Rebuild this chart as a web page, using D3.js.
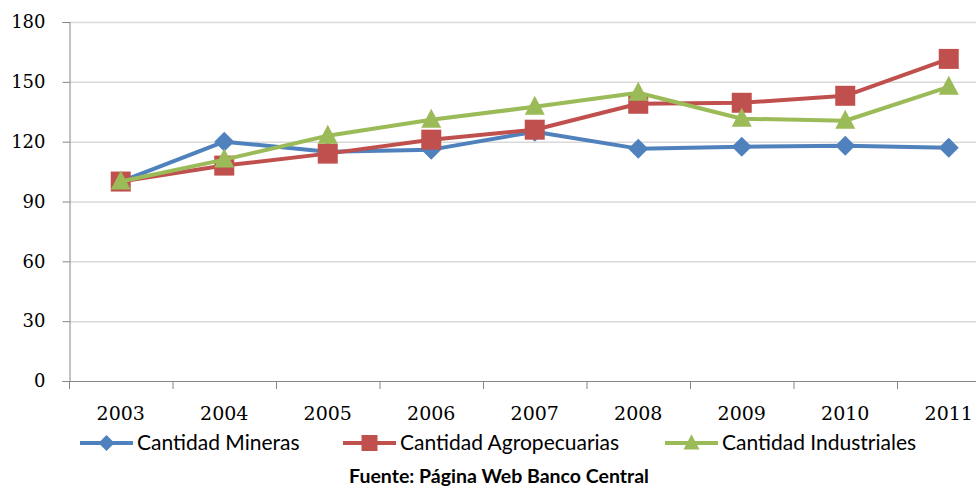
<!DOCTYPE html>
<html>
<head>
<meta charset="utf-8">
<script src="https://cdn.jsdelivr.net/npm/d3@7"></script>
<style>
  body { margin: 0; background: #fff; }
  svg { display: block; }
</style>
</head>
<body>
<script>
// datos del grafico
var years = ["2003", "2004", "2005", "2006", "2007", "2008", "2009", "2010", "2011"];
var mineras = [100, 120, 115, 116, 125, 116.5, 117.5, 118, 117];
var agro = [100, 108, 114, 121, 126, 139, 139.5, 143, 161.5];
var industriales = [100, 111, 123, 131, 137.5, 144.5, 131.5, 130.5, 147.5];
var yTicks = [0, 30, 60, 90, 120, 150, 180];
var seriesNames = ["Cantidad Mineras", "Cantidad Agropecuarias", "Cantidad Industriales"];

var W = 976, H = 487;
var mLeft = 69, mBottom = 381, mTop = 22;

var svg = d3.select("body").append("svg")
    .attr("width", W)
    .attr("height", H);

// escalas (el grafico original queda cortado a la derecha)
var x = d3.scaleBand()
    .domain(years)
    .range([mLeft, mLeft + 9 * 103.5])
    .padding(0);

var y = d3.scaleLinear()
    .domain([0, 180])
    .range([mBottom, mTop]);

// lineas de cuadricula
svg.append("g").selectAll("line")
    .data(yTicks.filter(function(d) { return d > 0; }))
    .enter().append("line")
    .attr("x1", mLeft).attr("x2", W)
    .attr("y1", function(d) { return y(d) + 0.5; })
    .attr("y2", function(d) { return y(d) + 0.5; })
    .attr("stroke", "#d9d9d9")
    .attr("stroke-width", 1.5);

// eje y
var yAxis = d3.axisLeft(y).tickValues(yTicks).tickSize(7).tickPadding(17);
var gy = svg.append("g")
    .attr("transform", "translate(" + (mLeft + 0.5) + ",0)")
    .call(yAxis);
gy.select(".domain").attr("stroke", "#868686");
gy.selectAll(".tick line").attr("stroke", "#868686");
gy.selectAll("text")
    .attr("font-family", "DejaVu Serif")
    .attr("font-size", "18px")
    .attr("fill", "#000");

// eje x con marcas entre categorias
svg.append("line")
    .attr("x1", mLeft).attr("x2", W)
    .attr("y1", mBottom + 0.5).attr("y2", mBottom + 0.5)
    .attr("stroke", "#868686");
svg.append("g").selectAll("line")
    .data(years)
    .enter().append("line")
    .attr("x1", function(d) { return x(d) + 0.5; })
    .attr("x2", function(d) { return x(d) + 0.5; })
    .attr("y1", mBottom).attr("y2", mBottom + 8)
    .attr("stroke", "#868686");
svg.append("g").selectAll("text")
    .data(years)
    .enter().append("text")
    .attr("x", function(d) { return x(d) + x.bandwidth() / 2; })
    .attr("y", 420)
    .attr("text-anchor", "middle")
    .attr("font-family", "DejaVu Serif")
    .attr("font-size", "19px")
    .attr("fill", "#000")
    .text(function(d) { return d; });

// series
var series = [
  { name: seriesNames[0], values: mineras, color: "#4f81bd", marker: "diamond" },
  { name: seriesNames[1], values: agro, color: "#c0504d", marker: "square" },
  { name: seriesNames[2], values: industriales, color: "#9bbb59", marker: "triangle" }
];

function markerPath(type) {
  if (type === "diamond") return "M0,-10L10,0L0,10L-10,0Z";
  if (type === "square") return "M-10,-10H10V10H-10Z";
  return "M0,-11L10,8L-10,8Z";
}

var line = d3.line()
    .x(function(d, i) { return x(years[i]) + x.bandwidth() / 2; })
    .y(function(d) { return y(d); });

series.forEach(function(s) {
  svg.append("path")
      .datum(s.values)
      .attr("d", line)
      .attr("fill", "none")
      .attr("stroke", s.color)
      .attr("stroke-width", 4)
      .attr("stroke-linejoin", "round");
  svg.append("g").selectAll("path")
      .data(s.values)
      .enter().append("path")
      .attr("transform", function(d, i) {
        return "translate(" + (x(years[i]) + x.bandwidth() / 2) + "," + y(d) + ")";
      })
      .attr("d", markerPath(s.marker))
      .attr("fill", s.color);
});

// leyenda
var legendX = [80, 343, 665];
var legend = svg.append("g");
series.forEach(function(s, i) {
  var g = legend.append("g").attr("transform", "translate(" + legendX[i] + ",443)");
  g.append("line")
      .attr("x1", 0).attr("x2", 53)
      .attr("stroke", s.color).attr("stroke-width", 4);
  g.append("path")
      .attr("transform", "translate(26.5,0) scale(0.8)")
      .attr("d", markerPath(s.marker))
      .attr("fill", s.color);
  g.append("text")
      .attr("x", 57)
      .attr("y", 7)
      .attr("font-family", "Lato")
      .attr("font-size", "21px")
      .attr("fill", "#000")
      .text(s.name);
});

// fuente
svg.append("text")
    .attr("x", 499)
    .attr("y", 483)
    .attr("text-anchor", "middle")
    .attr("font-family", "Lato")
    .attr("font-weight", "bold")
    .attr("font-size", "19.5px")
    .attr("fill", "#000")
    .text("Fuente: Página Web Banco Central");
</script>
</body>
</html>
